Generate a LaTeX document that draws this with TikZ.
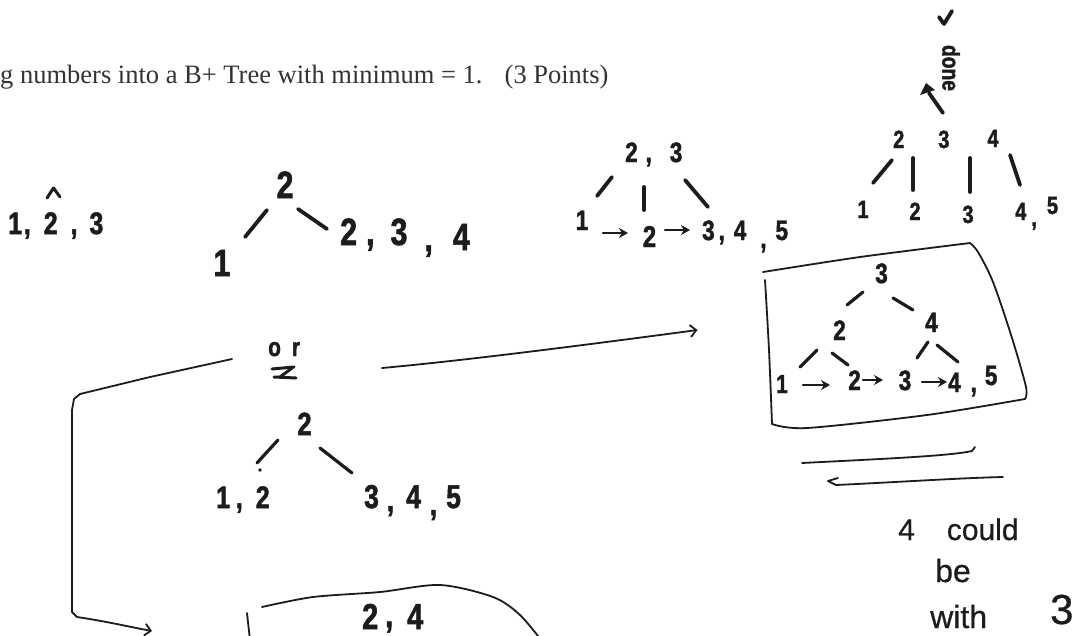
\documentclass[tikz,border=0pt]{standalone}
\usepackage{fontspec}
\setmainfont{Liberation Serif}
\newfontfamily\hwf{Liberation Sans}[FakeStretch=0.8,FakeBold=1.6]
\newfontfamily\notef{Liberation Sans}[FakeBold=0.6]
\usetikzlibrary{calc,arrows.meta}
\definecolor{ink}{HTML}{1C1C1C}
\newcommand{\hs}[1]{\hwf\bfseries\fontsize{#1}{#1}\selectfont}
\begin{document}
\begin{tikzpicture}[x=1pt,y=-1pt,
  key/.style={inner sep=0pt, text=ink},
  edge/.style={draw=ink, line width=3.8pt, line cap=round, line join=round},
  pen/.style={draw=ink, line width=1.8pt, line cap=round, line join=round},
  harrow/.style={draw=ink, line width=2.6pt, line cap=round, -{Stealth[length=9pt,width=10pt]}},
  barb/.style={pen, -{Straight Barb[length=6pt,width=12pt,line width=1.8pt]}},
]
\useasboundingbox (0,0) rectangle (1078,635);
\fill[white] (0,0) rectangle (1078,635);

% header
\node[anchor=base west, inner sep=0pt, text=ink!90, font={\fontsize{26.5}{30}\selectfont}] (hdr) at (0,83)
  {g numbers into a B+ Tree with minimum = 1.\hspace{0.5em} (3 Points)};

% tree A
\node[key,font={\hs{31}},anchor=base west] (tA) at (8,234) {1\hspace{2pt},\hspace{13pt}2\hspace{13pt},\hspace{12pt}3};
\draw[edge,line width=3pt] ($(tA.base west)+(39,-36)$) -- ($(tA.base west)+(45.5,-46)$) -- ($(tA.base west)+(52,-37)$);

% tree B
\node[key,font={\hs{38}},anchor=base] (rB) at (285,198) {2};
\node[key,font={\hs{38}},anchor=base] (lB1) at (222,276) {1};
\node[key,font={\hs{38}},anchor=base west] (lB2) at (340,245) {2\hspace{9pt},\hspace{16pt}3\hspace{17pt}\raisebox{-6pt}{,}\hspace{20pt}\raisebox{-5pt}{4}};
\draw[edge] ($(rB.base)+(-18,12)$) -- ($(lB1.base)+(23,-39)$);
\draw[edge] ($(rB.base)+(13,11)$) -- ($(lB2.base west)+(-13,-16)$);

% tree C
\node[key,font={\hs{28}},anchor=base west] (rC) at (625,162) {2\hspace{8pt},\hspace{18pt}3};
\node[key,font={\hs{28}},anchor=base] (c1) at (582,230) {1};
\node[key,font={\hs{30}},anchor=base] (c2) at (649.5,247) {2};
\node[key,font={\hs{28}},anchor=base west] (c3) at (702,240) {3\hspace{4pt},\hspace{9pt}4\hspace{14pt}\raisebox{-8pt}{,}\hspace{9pt}5};
\draw[edge] ($(rC.base west)+(-13,15)$) -- ($(c1.base)+(15,-34)$);
\draw[edge] ($(rC.base west)+(19,25)$) -- ($(c2.base)+(-5.5,-37)$);
\draw[edge] ($(rC.base west)+(60,18)$) -- ($(c3.base west)+(6,-33)$);
\draw[harrow] ($(c1.base)+(21,3)$) -- ($(c2.base)+(-21.5,-14)$);
\draw[harrow] ($(c2.base)+(15.5,-17)$) -- ($(c3.base west)+(-12,-10)$);

% top right tree
\draw[edge] (939,17) -- (944,24) -- (952,11);
\node[key,font={\hs{24}},rotate=-90] (dn) at (951,68) {done};
\fill[ink] (920,95) -- (926,83) -- (935,90) -- cycle;
\draw[edge] (929,93) -- (943,113);
\node[key,font={\hs{25}},anchor=base west] (rD) at (893,148) {2\hspace{34pt}3\hspace{38pt}\raisebox{1pt}{4}};
\node[key,font={\hs{25}},anchor=base] (d1) at (863,218) {1};
\node[key,font={\hs{25}},anchor=base] (d2) at (915,220) {2};
\node[key,font={\hs{25}},anchor=base] (d3) at (968,223) {3};
\node[key,font={\hs{25}},anchor=base west] (d4) at (1015,220) {4\hspace{5pt}\raisebox{-6pt}{,}\hspace{10pt}\raisebox{6pt}{5}};
\draw[edge] ($(rD.base west)+(-1,12)$) -- ($(d1.base)+(10,-35)$);
\draw[edge] ($(rD.base west)+(20,10)$) -- ($(d2.base)+(-2,-30)$);
\draw[edge] ($(rD.base west)+(77,10)$) -- ($(d3.base)+(2,-31)$);
\draw[edge] ($(rD.base west)+(117,7)$) -- ($(d4.base west)+(5,-35)$);

% boxed tree E
\draw[pen] plot[smooth,tension=0.4] coordinates {(763,272) (860,257) (970,243)};
\draw[pen] plot[smooth,tension=0.5] coordinates {(970,243) (978,252) (993,282) (1012,338) (1026,387) (1025,399)};
\draw[pen] plot[smooth,tension=0.5] coordinates {(1025,399) (927,415) (807,428) (772,424)};
\draw[pen] plot[smooth,tension=0.5] coordinates {(772,424) (769,350) (765,280)};
\node[key,font={\hs{28}},anchor=base] (rE) at (881.5,283) {3};
\node[key,font={\hs{28}},anchor=base] (e2) at (839.5,340) {2};
\node[key,font={\hs{28}},anchor=base] (e4) at (931.5,332) {4};
\node[key,font={\hs{26}},anchor=base] (l1) at (782,393) {1};
\node[key,font={\hs{28}},anchor=base] (l2) at (854.5,390) {2};
\node[key,font={\hs{28}},anchor=base] (l3) at (905,390) {3};
\node[key,font={\hs{28}},anchor=base west] (l45) at (948,392) {4\hspace{10pt},\hspace{8pt}\raisebox{7pt}{5}};
\draw[edge,line width=3.2pt] ($(rE.base)+(-18.5,9)$) -- ($(e2.base)+(7.5,-35)$);
\draw[edge,line width=3.2pt] ($(rE.base)+(11.5,15)$) -- ($(e4.base)+(-18.5,-22)$);
\draw[edge,line width=3.2pt] ($(e2.base)+(-22.5,10)$) -- ($(l1.base)+(18,-26)$);
\draw[edge,line width=3.2pt] ($(e2.base)+(-7.5,13)$) -- ($(l2.base)+(-6.5,-25)$);
\draw[edge,line width=3.2pt] ($(e4.base)+(-3.5,10)$) -- ($(l3.base)+(12,-32)$);
\draw[edge,line width=3.2pt] ($(e4.base)+(5.5,13)$) -- ($(l45.base west)+(10,-30)$);
\draw[harrow,line width=2.4pt] ($(l1.base)+(21,-8)$) -- ($(l2.base)+(-24.5,-5)$);
\draw[harrow,line width=2.4pt] ($(l2.base)+(8.5,-10)$) -- ($(l3.base)+(-22,-10)$);
\draw[harrow,line width=2.4pt] ($(l3.base)+(17,-8)$) -- ($(l45.base west)+(-1,-10)$);

% double underline
\draw[pen] (802,463) .. controls (880,459) and (950,456) .. (972,451) -- (975,447);
\draw[pen] (838,478) -- (828,481) -- (836,485) .. controls (900,482) and (960,478) .. (1003,477);

% note
\node[key,font={\notef\fontsize{30}{30}\selectfont},anchor=base west] (n1) at (898,540) {4\hspace{32pt}could};
\node[key,font={\notef\fontsize{32}{32}\selectfont},anchor=base west] (n2) at (935,582) {be};
\node[key,font={\notef\fontsize{32}{32}\selectfont},anchor=base west] (n3) at (930,628) {with\hspace{63pt}\raisebox{4pt}{\fontsize{42}{42}\selectfont 3}};

% "or"
\node[key,font={\hs{26}},anchor=base west] (orN) at (268,356) {o\hspace{11pt}r};
\draw[edge,line width=3pt] ($(orN.base west)+(4,13)$) -- ($(orN.base west)+(26,11)$);
\draw[edge,line width=3pt] ($(orN.base west)+(6,21)$) -- ($(orN.base west)+(28,22)$);
\draw[edge,line width=3pt] ($(orN.base west)+(24,12)$) -- ($(orN.base west)+(12,21)$);

% tree G
\node[key,font={\hs{32}},anchor=base] (rG) at (304.5,435) {2};
\node[key,font={\hs{31}},anchor=base west] (g1) at (216,508) {1\hspace{6pt},\hspace{13pt}2};
\node[key,font={\hs{33}},anchor=base west] (g2) at (364,508) {3\hspace{8pt}\raisebox{-3pt}{,}\hspace{12pt}4\hspace{9pt}\raisebox{-7pt}{,}\hspace{9pt}5};
\draw[edge,line width=3.2pt] ($(rG.base)+(-26.5,5)$) -- ($(g1.base west)+(41,-45)$);
\fill[ink] ($(g1.base west)+(44,-38)$) circle (1.8);
\draw[edge,line width=3.2pt] ($(rG.base)+(15.5,13)$) -- ($(g2.base west)+(-12,-35)$);

% bottom box F
\node[key,font={\hs{36}},anchor=base west] (f24) at (362,629) {2\hspace{7pt}\raisebox{2pt}{,}\hspace{14pt}4};
\draw[pen] (247,613) -- (250,640);
\draw[pen] plot[smooth,tension=0.5] coordinates {(262,607) (313,597) (380,592) (440,585) (493,597) (520,615) (545,645)};

% connectors from "or"
\draw[barb] ($(orN.base west)+(-36,3)$) -- (150,377) -- (80,394) -- (74,399) -- (72,410) -- (72,612) -- (77,617) .. controls (110,622) and (130,627) .. ($(f24.base west)+(-210,2)$);
\draw[barb] ($(orN.base west)+(114,12)$) .. controls (470,360) and (600,343) .. ($(e2.base)+(-142,-10)$);
\end{tikzpicture}
\end{document}
